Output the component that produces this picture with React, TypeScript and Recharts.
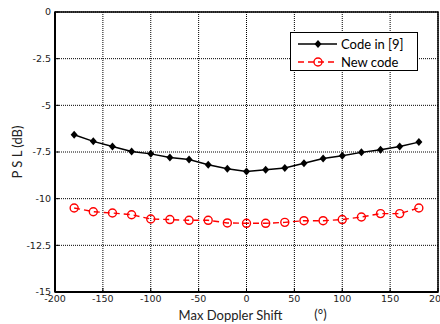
import React from 'react';
import {
  LineChart, Line, XAxis, YAxis, CartesianGrid, Legend, ReferenceArea,
} from 'recharts';

const shifts = [-180, -160, -140, -120, -100, -80, -60, -40, -20, 0, 20, 40, 60, 80, 100, 120, 140, 160, 180];
const codeIn9 = [-6.58, -6.93, -7.2, -7.47, -7.6, -7.8, -7.9, -8.18, -8.4, -8.54, -8.45, -8.36, -8.1, -7.85, -7.7, -7.52, -7.38, -7.2, -6.97];
const newCode = [-10.5, -10.7, -10.77, -10.86, -11.09, -11.12, -11.16, -11.16, -11.3, -11.32, -11.32, -11.27, -11.18, -11.18, -11.12, -10.98, -10.8, -10.8, -10.5];

const xTicks = [-200, -150, -100, -50, 0, 50, 100, 150, 200];
const yTicks = [0, -2.5, -5, -7.5, -10, -12.5, -15];

const data = shifts.map((s, i) => ({ shift: s, old: codeIn9[i], neu: newCode[i] }));

const tickStyle = { fontSize: 9.5, fill: '#222', fontFamily: 'DejaVu Sans' };

function DiamondDot(props: any) {
  const { cx, cy } = props;
  if (cx == null || cy == null) return null;
  return (
    <polygon
      points={`${cx},${cy - 4} ${cx + 3.5},${cy} ${cx},${cy + 4} ${cx - 3.5},${cy}`}
      fill="#000"
    />
  );
}

function CircleDot(props: any) {
  const { cx, cy } = props;
  if (cx == null || cy == null) return null;
  return <circle cx={cx} cy={cy} r={4} fill="none" stroke="#ff0000" strokeWidth={1.4} />;
}

function LegendBox() {
  return (
    <div style={{ width: 126, height: 37, border: '1.5px solid #000', background: '#fff' }}>
      <svg width={126} height={37} style={{ display: 'block' }}>
        <line x1={7} y1={11} x2={46} y2={11} stroke="#000" strokeWidth={1.5} />
        <DiamondDot cx={27} cy={11} />
        <text x={50} y={15.5} fontSize={13} fontFamily="Lato" fill="#000">Code in [9]</text>
        <line x1={7} y1={29} x2={46} y2={29} stroke="#ff0000" strokeWidth={1.4} strokeDasharray="6 4" />
        <CircleDot cx={27} cy={29} />
        <text x={50} y={33.5} fontSize={13} fontFamily="Lato" fill="#000">New code</text>
      </svg>
    </div>
  );
}

function XLabel(props: any) {
  const { viewBox } = props;
  const y = viewBox.y + viewBox.height - 4;
  const cx = viewBox.x + viewBox.width / 2;
  return (
    <g fontFamily="Lato" fontSize={13} fill="#222">
      <text x={cx - 16} y={y} textAnchor="middle">Max Doppler Shift</text>
      <text x={cx + 74} y={y - 1} textAnchor="middle">(°)</text>
    </g>
  );
}

export default function App() {
  return (
    <div style={{ position: 'absolute', left: 0, top: 0, width: 440, height: 324, background: '#fff' }}>
      <LineChart width={440} height={324} data={data} margin={{ top: 12, right: 2, left: 0, bottom: 0 }}>
        <CartesianGrid stroke="#000" strokeDasharray="1 1" strokeWidth={1} />
        <XAxis
          dataKey="shift"
          type="number"
          domain={[-200, 200]}
          ticks={xTicks}
          height={32}
          tick={tickStyle}
          tickSize={-4}
          tickMargin={7}
          tickLine={{ stroke: '#000' }}
          axisLine={{ stroke: '#000', strokeWidth: 2 }}
          label={<XLabel />}
          interval={0}
        />
        <YAxis
          type="number"
          domain={[-15, 0]}
          ticks={yTicks}
          width={55}
          tick={tickStyle}
          tickSize={-4}
          tickMargin={8}
          tickLine={{ stroke: '#000' }}
          axisLine={{ stroke: '#000', strokeWidth: 2 }}
          interval={0}
          label={{ value: 'P S L (dB)', angle: -90, position: 'insideLeft', dx: 12, style: { fontFamily: 'Lato', fontSize: 13, fill: '#222', textAnchor: 'middle' } }}
        />
        <ReferenceArea x1={-200} x2={200} y1={-15} y2={0} fill="none" stroke="#000" strokeWidth={1.5} ifOverflow="visible" />
        <Legend
          layout="vertical"
          align="center"
          verticalAlign="middle"
          content={<LegendBox />}
          wrapperStyle={{ position: 'absolute', left: 290, top: 32, width: 129 }}
        />
        <Line dataKey="old" stroke="#000" strokeWidth={1.5} dot={<DiamondDot />} isAnimationActive={false} />
        <Line dataKey="neu" stroke="#ff0000" strokeWidth={1.4} strokeDasharray="6 4" dot={<CircleDot />} isAnimationActive={false} />
      </LineChart>
    </div>
  );
}
